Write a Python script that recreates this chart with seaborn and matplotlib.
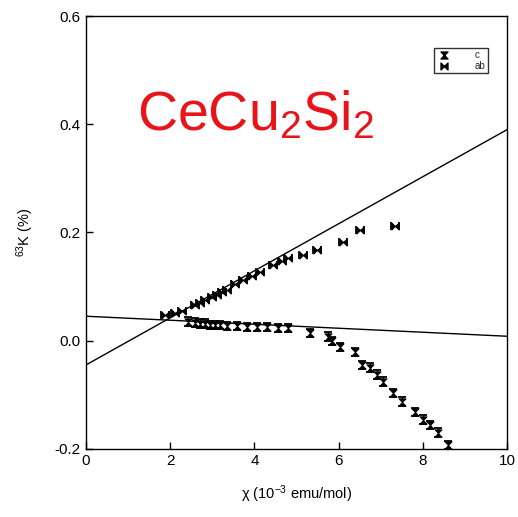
import numpy as np
import pandas as pd
import matplotlib
matplotlib.use("Agg")
import matplotlib.pyplot as plt
from matplotlib.path import Path
from matplotlib.lines import Line2D
import seaborn as sns

# ---- data ----
ab_x = [1.88, 2.11, 2.28, 2.59, 2.71, 2.83, 2.99, 3.11, 3.23, 3.35, 3.54,
        3.73, 3.94, 4.13, 4.44, 4.66, 4.80, 5.15, 5.49, 6.10, 6.51, 7.34]
ab_y = [0.047, 0.051, 0.055, 0.066, 0.070, 0.075, 0.081, 0.084, 0.090, 0.094,
        0.105, 0.112, 0.119, 0.127, 0.140, 0.147, 0.153, 0.158, 0.167, 0.182,
        0.204, 0.211]
c_x = [2.42, 2.59, 2.71, 2.83, 2.95, 3.06, 3.18, 3.35, 3.59, 3.82, 4.06, 4.30,
       4.56, 4.80, 5.32, 5.75, 5.84, 6.03, 6.39, 6.56, 6.75, 6.91, 7.05, 7.29,
       7.51, 7.81, 8.00, 8.17, 8.36, 8.60]
c_y = [0.035, 0.033, 0.031, 0.031, 0.029, 0.029, 0.029, 0.027, 0.027, 0.025,
       0.025, 0.025, 0.023, 0.023, 0.014, 0.007, -0.001, -0.012, -0.021,
       -0.045, -0.050, -0.063, -0.076, -0.097, -0.113, -0.132, -0.146, -0.156,
       -0.170, -0.193]
c_err = 0.008
ab_err = 0.10
line_x = [0, 10]
line_ab_y = [-0.045, 0.39]
line_c_y = [0.045, 0.008]

x_ticks = [0, 2, 4, 6, 8, 10]
y_ticks = [-0.2, 0.0, 0.2, 0.4, 0.6]

# ---- style ----
sns.set_theme(style="white")
plt.rcParams['font.family'] = ['Liberation Sans', 'DejaVu Sans']
plt.rcParams['mathtext.fontset'] = 'custom'
plt.rcParams['mathtext.rm'] = 'Liberation Sans'
plt.rcParams['mathtext.it'] = 'Liberation Sans'

hourglass = Path([(-1, 1), (1, 1), (-1, -1), (1, -1), (-1, 1)],
                 [Path.MOVETO, Path.LINETO, Path.LINETO, Path.LINETO, Path.CLOSEPOLY])
bowtie = Path([(-1, 1), (-1, -1), (1, 1), (1, -1), (-1, 1)],
              [Path.MOVETO, Path.LINETO, Path.LINETO, Path.LINETO, Path.CLOSEPOLY])

fig = plt.figure(figsize=(5.18, 5.17), dpi=100)
ax = fig.add_axes([0.166, 0.132, 0.813, 0.837])

df_ab = pd.DataFrame({"x": ab_x, "y": ab_y})
df_c = pd.DataFrame({"x": c_x, "y": c_y})
df_l1 = pd.DataFrame({"x": line_x, "y": line_ab_y})
df_l2 = pd.DataFrame({"x": line_x, "y": line_c_y})

sns.lineplot(data=df_l1, x="x", y="y", ax=ax, color="black", lw=1.0)
sns.lineplot(data=df_l2, x="x", y="y", ax=ax, color="black", lw=1.0)

ax.errorbar(c_x, c_y, yerr=c_err, fmt='none', ecolor='black', elinewidth=1,
            capsize=3.2, capthick=1.3)
ax.errorbar(ab_x, ab_y, xerr=ab_err, fmt='none', ecolor='black', elinewidth=1,
            capsize=3.2, capthick=1.3)
sns.scatterplot(data=df_c, x="x", y="y", ax=ax, marker=hourglass, s=28,
                color="black", edgecolor="black", linewidth=0.6)
sns.scatterplot(data=df_ab, x="x", y="y", ax=ax, marker=bowtie, s=28,
                color="black", edgecolor="black", linewidth=0.6)

ax.set_xlim(0, 10)
ax.set_ylim(-0.2, 0.6)
ax.set_xticks(x_ticks)
ax.set_xticklabels([str(t) for t in x_ticks])
ax.set_yticks(y_ticks)
ax.set_yticklabels(["-0.2", "0.0", "0.2", "0.4", "0.6"])
ax.tick_params(direction='in', length=5, width=1, labelsize=11, colors='black',
               pad=4, bottom=True, left=True, top=False, right=False)
for sp in ax.spines.values():
    sp.set_color('black')
    sp.set_linewidth(1.0)

ax.set_xlabel("χ (10$^{-3}$ emu/mol)", fontsize=10.5, color='black', labelpad=11)
ax.set_ylabel("$^{63}$K (%)", fontsize=10.5, color='black', labelpad=13)

ax.text(0.122, 0.77, "CeCu$_2$Si$_2$", transform=ax.transAxes, color='#e8141c',
        fontsize=40, va='center', ha='left')

handles = [Line2D([], [], marker=hourglass, color='black', ls='none', markersize=5),
           Line2D([], [], marker=bowtie, color='black', ls='none', markersize=5)]
leg = ax.legend(handles, ["c", "ab"], loc='upper right', bbox_to_anchor=(0.955, 0.926),
                borderaxespad=0, fontsize=7, frameon=True, fancybox=False,
                handlelength=1.6, handletextpad=2.4, borderpad=0.25,
                labelspacing=0.05)
leg.get_frame().set_edgecolor('black')
leg.get_frame().set_linewidth(1.0)

fig.savefig("out.png", dpi=100)
